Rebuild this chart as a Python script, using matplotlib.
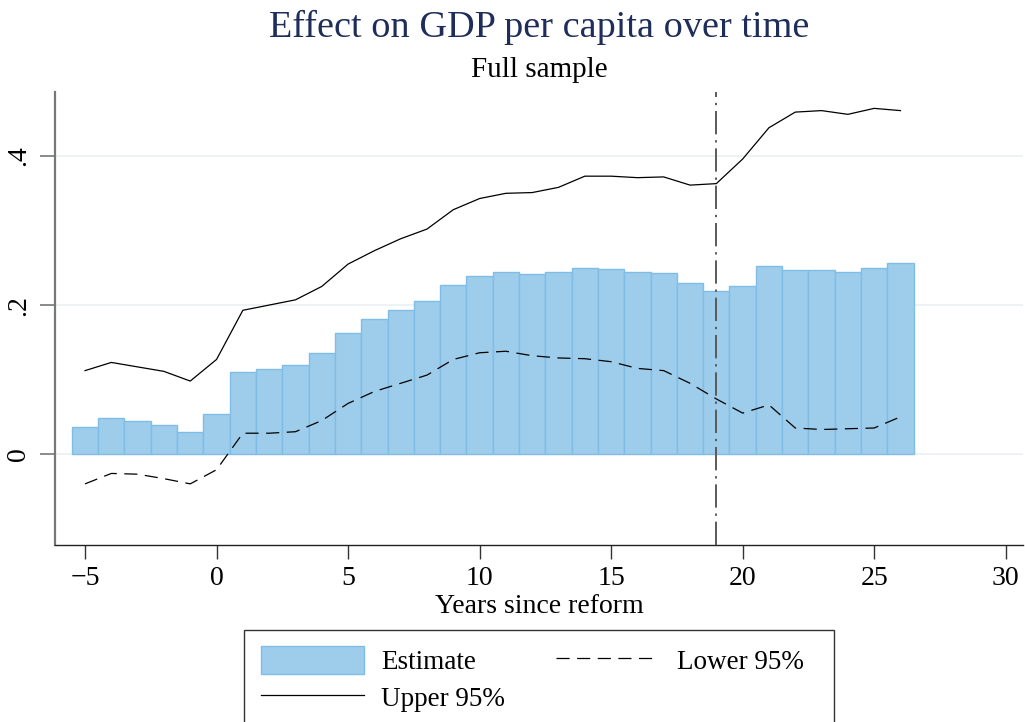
import matplotlib
matplotlib.use('Agg')
import matplotlib.pyplot as plt
from matplotlib.patches import Patch
from matplotlib.lines import Line2D

plt.rcParams['font.family'] = ['Liberation Serif', 'DejaVu Serif']

years = list(range(-5, 27))
estimate = [0.036, 0.049, 0.045, 0.039, 0.030, 0.054, 0.110, 0.114, 0.120, 0.136,
            0.163, 0.181, 0.194, 0.205, 0.227, 0.239, 0.245, 0.242, 0.244, 0.250,
            0.249, 0.244, 0.243, 0.229, 0.219, 0.225, 0.252, 0.247, 0.247, 0.245,
            0.250, 0.256]
upper95 = [0.112, 0.123, 0.117, 0.111, 0.098, 0.127, 0.193, 0.200, 0.207, 0.225,
           0.255, 0.273, 0.289, 0.302, 0.328, 0.343, 0.350, 0.351, 0.358, 0.373,
           0.373, 0.371, 0.372, 0.361, 0.363, 0.396, 0.438, 0.459, 0.461, 0.456,
           0.464, 0.461]
lower95 = [-0.040, -0.026, -0.027, -0.033, -0.040, -0.021, 0.028, 0.028, 0.030, 0.045,
           0.068, 0.084, 0.095, 0.106, 0.127, 0.136, 0.138, 0.132, 0.129, 0.128,
           0.124, 0.115, 0.112, 0.095, 0.074, 0.055, 0.066, 0.035, 0.033, 0.034,
           0.035, 0.050]
reform_line = 19
xticks = [-5, 0, 5, 10, 15, 20, 25, 30]
yticks = [0, 0.2, 0.4]
ytick_labels = ['0', '.2', '.4']

fig = plt.figure(figsize=(10.25, 7.22), dpi=100)
ax = fig.add_axes([0.0537, 0.2452, 0.9444, 0.6274])

for y in yticks:
    ax.axhline(y, color='#eaf1f2', lw=1.2, zorder=0)

ax.bar(years, estimate, width=1.0, color='#9dcdeb', edgecolor='#80bde6',
       linewidth=1.0, zorder=2)
ax.plot(years, upper95, color='black', lw=0.9, zorder=3)
ax.plot(years, lower95, color='black', lw=0.9, dashes=(10.5, 6), zorder=3)
ax.axvline(reform_line, color='#5a5a5a', lw=1.4, dashes=(12, 3, 1.2, 3), zorder=4)

ax.set_xlim(-6.14, 30.66)
ax.set_ylim(-0.122, 0.486)
ax.set_xticks(xticks)
ax.set_xticklabels(['\u22125' if t == -5 else str(t) for t in xticks])
ax.set_yticks(yticks)
ax.set_yticklabels(ytick_labels, rotation=90, va='center')
ax.tick_params(axis='x', labelsize=20, length=10, width=1, color='#333333', pad=5)
ax.tick_params(axis='y', labelsize=20, length=11, width=1.2, color='#777777', pad=6)

for side in ['top', 'right']:
    ax.spines[side].set_visible(False)
ax.spines['left'].set_color('#777777')
ax.spines['left'].set_linewidth(1.6)
ax.spines['bottom'].set_color('#222222')
ax.spines['bottom'].set_linewidth(1.0)

ax.set_xlabel('Years since reform', fontsize=20, labelpad=2)

fig.text(0.5264, 1 - 27 / 722, 'Effect on GDP per capita over time', ha='center',
         va='center', fontsize=27.5, color='#1e2d5a')
fig.text(0.5264, 1 - 70 / 722, 'Full sample', ha='center', va='center', fontsize=21)

handles = [Patch(facecolor='#9dcdeb', edgecolor='#80bde6', lw=1.0),
           Line2D([], [], color='black', lw=0.9),
           Line2D([], [], color='black', lw=0.9, dashes=(10.5, 6))]
labels = ['Estimate', 'Upper 95%', 'Lower 95%  ']
leg = fig.legend(handles, labels, ncol=2, loc='upper center',
                 bbox_to_anchor=(539 / 1025, 1 - 630 / 722), fontsize=19.5,
                 frameon=True, fancybox=False, edgecolor='black', handlelength=3.8,
                 handleheight=1.2, handletextpad=0.65, columnspacing=1.9,
                 labelspacing=0.3, borderpad=0.6, borderaxespad=0)
leg.get_frame().set_linewidth(1.0)

fig.savefig('out.png', dpi=100)
